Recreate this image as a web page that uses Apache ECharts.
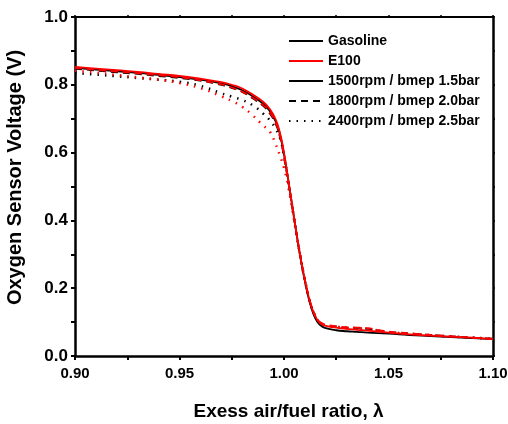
<!DOCTYPE html>
<html><head><meta charset="utf-8">
<script src="https://cdn.jsdelivr.net/npm/echarts@6/dist/echarts.min.js"></script>
<style>html,body{margin:0;padding:0;background:#fff}#c{width:508px;height:424px}</style>
</head><body><div id="c"></div>
<script>
const lambda = [0.90,0.91,0.92,0.93,0.94,0.95,0.96,0.97,0.975,0.98,0.985,0.99,0.993,0.996,0.998,1.000,1.002,1.004,1.006,1.008,1.010,1.012,1.014,1.016,1.018,1.020,1.025,1.03,1.035,1.04,1.05,1.06,1.07,1.08,1.09,1.10];
const gas1500 = [0.850,0.845,0.840,0.835,0.829,0.823,0.815,0.804,0.796,0.784,0.766,0.744,0.724,0.692,0.655,0.595,0.520,0.440,0.360,0.285,0.220,0.165,0.125,0.100,0.088,0.082,0.076,0.073,0.071,0.069,0.066,0.062,0.059,0.056,0.053,0.050];
const e1500   = [0.853,0.848,0.843,0.838,0.832,0.826,0.818,0.808,0.800,0.789,0.771,0.750,0.730,0.698,0.660,0.600,0.522,0.442,0.362,0.288,0.224,0.170,0.130,0.106,0.094,0.089,0.084,0.080,0.077,0.075,0.069,0.064,0.060,0.057,0.054,0.050];
const gas1800 = [0.848,0.842,0.837,0.832,0.826,0.820,0.812,0.800,0.791,0.779,0.760,0.738,0.717,0.685,0.648,0.588,0.515,0.438,0.360,0.287,0.224,0.170,0.130,0.106,0.095,0.090,0.087,0.083,0.083,0.080,0.071,0.066,0.062,0.058,0.054,0.051];
const e1800   = [0.850,0.844,0.839,0.834,0.828,0.822,0.813,0.801,0.792,0.780,0.762,0.740,0.720,0.688,0.650,0.590,0.516,0.439,0.361,0.289,0.226,0.172,0.133,0.108,0.097,0.092,0.088,0.085,0.084,0.082,0.072,0.067,0.062,0.058,0.054,0.051];
const gas2400 = [0.835,0.830,0.825,0.820,0.815,0.809,0.797,0.775,0.765,0.755,0.740,0.715,0.697,0.670,0.645,0.590,0.515,0.438,0.360,0.287,0.224,0.170,0.130,0.105,0.094,0.089,0.085,0.082,0.080,0.078,0.070,0.065,0.061,0.057,0.054,0.051];
const e2400   = [0.842,0.836,0.829,0.822,0.815,0.805,0.790,0.766,0.752,0.735,0.710,0.680,0.664,0.625,0.592,0.555,0.500,0.432,0.358,0.287,0.225,0.172,0.132,0.107,0.096,0.091,0.087,0.084,0.082,0.080,0.071,0.066,0.062,0.058,0.054,0.051];
const legendNames = ['Gasoline','E100','1500rpm / bmep 1.5bar','1800rpm / bmep 2.0bar','2400rpm / bmep 2.5bar'];
const xTitle = 'Exess air/fuel ratio, λ';
const yTitle = 'Oxygen Sensor Voltage (V)';

const font = '"Liberation Sans", Arial, sans-serif';
const zip = ys => lambda.map((x,i)=>[x,ys[i]]);
const DOT = [1.5,6];
const DASH = [7,5];
function mk(name, ys, color, type, w){
  return {name, type:'line', data: zip(ys), symbol:'none', smooth:true, silent:true,
    lineStyle:{color, width:w, type}, z: color==='#000' ? 3 : 4};
}
function dummy(name, color, type){
  return {name, type:'line', data:[], symbol:'none', lineStyle:{color, width:1.5, type}, itemStyle:{color}};
}
const chart = echarts.init(document.getElementById('c'), null, {renderer:'canvas'});
chart.setOption({
  animation:false,
  backgroundColor:'#fff',
  grid:{left:75, right:15, top:17, bottom:68, containLabel:false, outerBoundsMode:'none'},
  legend:{data:legendNames, orient:'vertical', left:283, top:29, itemWidth:34, itemHeight:14, itemGap:6,
    itemStyle:{opacity:0},
    textStyle:{fontFamily:font, fontWeight:'bold', fontSize:14, color:'#000'}},
  xAxis:[{type:'value', min:0.90, max:1.10, interval:0.05, position:'bottom',
    name:xTitle, nameLocation:'middle', nameGap:46,
    nameTextStyle:{fontFamily:font, fontWeight:'bold', fontSize:19, color:'#000', padding:[0,0,0,9]},
    axisLine:{show:true, onZero:false, lineStyle:{color:'#000', width:2.5}},
    axisTick:{inside:false, length:4, lineStyle:{width:2}},
    minorTick:{show:true, splitNumber:2, length:4, lineStyle:{color:'#000', width:2}},
    splitLine:{show:false},
    axisLabel:{fontFamily:font, fontWeight:'bold', fontSize:15, color:'#000', margin:10, formatter:v=>v.toFixed(2)}},
   {type:'value', min:0.90, max:1.10, interval:0.05, position:'top',
    axisLine:{show:true, onZero:false, lineStyle:{color:'#000', width:2}}, axisTick:{length:2, lineStyle:{width:1.5}},
    minorTick:{show:true, splitNumber:2, length:2, lineStyle:{color:'#000', width:1.5}},
    splitLine:{show:false}, axisLabel:{show:false}}],
  yAxis:[{type:'value', min:0, max:1.0, interval:0.2,
    name:yTitle, nameLocation:'middle', nameGap:50,
    nameTextStyle:{fontFamily:font, fontWeight:'bold', fontSize:20, color:'#000', padding:[0,0,0,18]},
    axisLine:{show:true, onZero:false, lineStyle:{color:'#000', width:2.5}},
    axisTick:{show:true, length:4, lineStyle:{width:2}},
    minorTick:{show:true, splitNumber:2, length:4, lineStyle:{color:'#000', width:2}},
    splitLine:{show:false},
    axisLabel:{fontFamily:font, fontWeight:'bold', fontSize:17, color:'#000', margin:7, formatter:v=>v.toFixed(1)}},
   {type:'value', min:0, max:1.0, interval:0.2, position:'right',
    axisLine:{show:true, onZero:false, lineStyle:{color:'#000', width:2.5}},
    axisTick:{show:true, length:2, lineStyle:{width:1.5}},
    minorTick:{show:true, splitNumber:2, length:2, lineStyle:{color:'#000', width:1.5}},
    splitLine:{show:false}, axisLabel:{show:false}}],
  series:[
    dummy(legendNames[0], '#000', 'solid'),
    dummy(legendNames[1], '#ff0000', 'solid'),
    dummy(legendNames[2], '#000', 'solid'),
    dummy(legendNames[3], '#000', DASH),
    dummy(legendNames[4], '#000', DOT),
    mk('g2400', gas2400, '#000', DOT, 2.5),
    mk('e2400', e2400, '#ff0000', DOT, 2.5),
    mk('g1800', gas1800, '#000', DASH, 1.8),
    mk('e1800', e1800, '#ff0000', DASH, 1.8),
    mk('g1500', gas1500, '#000', 'solid', 1.8),
    mk('e1500', e1500, '#ff0000', 'solid', 1.8)
  ]
});
</script></body></html>
